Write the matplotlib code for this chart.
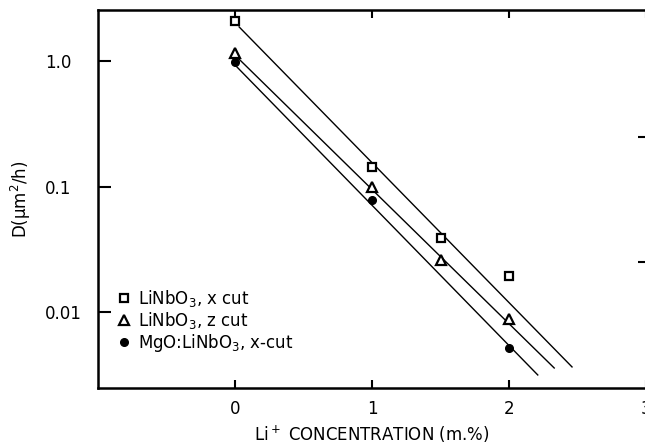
import numpy as np
import matplotlib
matplotlib.use('Agg')
import matplotlib.pyplot as plt
from matplotlib.ticker import NullLocator, FixedLocator

plt.rcParams['font.family'] = ['DejaVu Sans']
plt.rcParams['mathtext.default'] = 'regular'

# ---- dados ----
x_sq = [0.0, 1.0, 1.5, 2.0]
d_sq = [2.07, 0.143, 0.039, 0.0194]
x_tri = [0.0, 1.0, 1.5, 2.0]
d_tri = [1.16, 0.099, 0.026, 0.0088]
x_circ = [0.0, 1.0, 2.0]
d_circ = [0.98, 0.078, 0.0052]

# retas de ajuste (extremos)
fit_sq_x = [0.03, 2.46]
fit_sq_y = [1.87, 0.00365]
fit_tri_x = [0.02, 2.33]
fit_tri_y = [1.06, 0.00358]
fit_circ_x = [0.0, 2.21]
fit_circ_y = [0.93, 0.00315]

labels = [r'LiNbO$_3$, x cut', r'LiNbO$_3$, z cut', r'MgO:LiNbO$_3$, x-cut']
xticks = [0, 1, 2, 3]
yticks = [1.0, 0.1, 0.01]
yticklabels = ['1.0', '0.1', '0.01']
right_ticks = [0.25, 0.025]

fig = plt.figure(figsize=(6.45, 4.45), dpi=100)
ax = fig.add_axes([98 / 645, 57 / 445, 548 / 645, 378 / 445])

ax.plot(fit_sq_x, fit_sq_y, color='black', lw=1.0)
ax.plot(fit_tri_x, fit_tri_y, color='black', lw=1.0)
ax.plot(fit_circ_x, fit_circ_y, color='black', lw=1.0)

h1, = ax.plot(x_sq, d_sq, 's', ms=6, mfc='white', mec='black', mew=1.6, ls='none')
h2, = ax.plot(x_tri, d_tri, '^', ms=7, mfc='white', mec='black', mew=1.6, ls='none')
h3, = ax.plot(x_circ, d_circ, 'o', ms=5.5, mfc='black', mec='black', ls='none')

ax.set_yscale('log')
ax.set_xlim(-1, 3)
ax.set_ylim(0.00248, 2.55)

ax.set_xticks(xticks)
ax.set_xticklabels(['0', '1', '2', '3'])
ax.yaxis.set_major_locator(FixedLocator(yticks))
ax.yaxis.set_minor_locator(NullLocator())
ax.set_yticklabels(yticklabels)
for lab in ax.get_yticklabels():
    lab.set_horizontalalignment('left')

ax.tick_params(axis='x', direction='in', length=6, width=1.5, top=True,
               labelsize=12, pad=9)
ax.tick_params(axis='y', direction='in', length=9, width=1.5,
               labelsize=12, pad=38)

sec = ax.secondary_yaxis('right')
sec.yaxis.set_major_locator(FixedLocator(right_ticks))
sec.yaxis.set_minor_locator(NullLocator())
sec.set_yticklabels([])
sec.tick_params(direction='in', length=6, width=1.5)

for s in ax.spines.values():
    s.set_linewidth(1.8)

ax.set_xlabel(r'Li$^+$ CONCENTRATION (m.%)', fontsize=12)
ax.xaxis.set_label_coords(0.5, -0.094)
ax.set_ylabel(r'D(μm$^2$/h)', fontsize=12)
ax.yaxis.set_label_coords(-0.119, 0.5)

ax.legend([h1, h2, h3], labels, loc='upper left', bbox_to_anchor=(0.022, 0.282),
          frameon=False, fontsize=12, handletextpad=0.4, labelspacing=0.05,
          handlelength=0.9, borderaxespad=0)

fig.savefig('out.png', dpi=100)
